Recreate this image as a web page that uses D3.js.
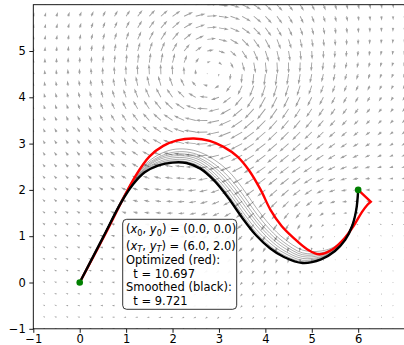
<!DOCTYPE html>
<html>
<head>
<meta charset="utf-8">
<script src="https://cdn.jsdelivr.net/npm/d3@7"></script>
<style>
  body { margin: 0; background: #fff; }
  svg { display: block; font-family: "DejaVu Sans", sans-serif; }
</style>
</head>
<body>
<div class="container"></div>
<script>
const width = 404;
const height = 345;

const xTicks = [-1, 0, 1, 2, 3, 4, 5, 6];
const yTicks = [-1, 0, 1, 2, 3, 4, 5];

// flow field: two Lamb-Oseen vortices (negative strength = clockwise)
const vortexX = [2.9, 5.2];
const vortexY = [4.45, 1.5];
const vortexStrength = [-1, 0.33];
const vortexCore = [1.1, 1.0];
const gridStep = 0.25;

// path iterations (x shared), smoothed (black), optimized (red)
const iterX = [0, 0.5, 0.9, 1.15, 1.4, 1.7, 2.0, 2.3, 2.6, 2.9, 3.2, 3.5, 3.8, 4.1, 4.4, 4.8, 5.2, 5.5, 5.72, 5.87, 5.96, 6.0];
const smoothedY = [0, 0.97, 1.74, 2.12, 2.38, 2.53, 2.59, 2.58, 2.46, 2.2, 1.83, 1.4, 1.02, 0.74, 0.55, 0.42, 0.5, 0.68, 0.92, 1.22, 1.58, 2.0];
const iterationY = [
  [0, 0.97, 1.75, 2.13, 2.4, 2.55, 2.62, 2.61, 2.5, 2.25, 1.89, 1.47, 1.08, 0.79, 0.59, 0.45, 0.52, 0.69, 0.93, 1.22, 1.58, 2.0],
  [0, 0.97, 1.75, 2.14, 2.42, 2.58, 2.65, 2.65, 2.54, 2.3, 1.96, 1.54, 1.15, 0.85, 0.64, 0.48, 0.54, 0.7, 0.93, 1.23, 1.58, 2.0],
  [0, 0.98, 1.76, 2.16, 2.44, 2.61, 2.69, 2.69, 2.59, 2.36, 2.04, 1.63, 1.24, 0.92, 0.69, 0.52, 0.56, 0.72, 0.94, 1.23, 1.58, 2.0],
  [0, 0.98, 1.77, 2.17, 2.46, 2.65, 2.73, 2.73, 2.64, 2.43, 2.12, 1.73, 1.32, 0.99, 0.75, 0.56, 0.59, 0.73, 0.95, 1.24, 1.59, 2.0],
  [0, 0.98, 1.77, 2.18, 2.48, 2.68, 2.77, 2.77, 2.68, 2.49, 2.2, 1.82, 1.4, 1.06, 0.81, 0.6, 0.62, 0.74, 0.96, 1.24, 1.59, 2.0],
  [0, 0.99, 1.78, 2.2, 2.51, 2.71, 2.81, 2.82, 2.74, 2.56, 2.29, 1.92, 1.5, 1.14, 0.87, 0.64, 0.64, 0.76, 0.97, 1.24, 1.59, 2.0],
  [0, 0.99, 1.79, 2.22, 2.54, 2.76, 2.87, 2.88, 2.81, 2.65, 2.41, 2.05, 1.62, 1.24, 0.95, 0.7, 0.68, 0.78, 0.98, 1.25, 1.59, 2.0]
];
const optimizedX = [0, 0.3, 0.6, 0.9, 1.2, 1.5, 1.8, 2.1, 2.46, 2.8, 3.1, 3.4, 3.65, 3.9, 4.11, 4.35, 4.6, 4.9, 5.16, 5.45, 5.7, 5.9, 6.08, 6.2, 6.27];
const optimizedY = [0, 0.57, 1.14, 1.74, 2.3, 2.72, 2.95, 3.07, 3.11, 3.06, 2.93, 2.72, 2.42, 2.0, 1.57, 1.22, 0.97, 0.72, 0.61, 0.72, 0.95, 1.22, 1.52, 1.68, 1.745];
const markerX = [0, 6];
const markerY = [0, 2];

const infoLines = ['Optimized (red):', '  t = 10.697', 'Smoothed (black):', '  t = 9.721'];

const x = d3.scaleLinear().domain([-1, 7]).range([33.3, 404.6]);
const y = d3.scaleLinear().domain([-1, 6]).range([328.8, 4.7]);

const svg = d3.select('.container')
  .append('svg')
  .attr('width', width)
  .attr('height', height);

svg.append('clipPath').attr('id', 'plot')
  .append('rect')
  .attr('x', x(-1)).attr('y', y(6))
  .attr('width', x(7) - x(-1)).attr('height', y(-1) - y(6));

function flow(px, py) {
  let u = 0;
  let v = 0;
  vortexX.forEach((cx, i) => {
    const dx = px - cx;
    const dy = py - vortexY[i];
    const r2 = dx * dx + dy * dy + 1e-9;
    const f = vortexStrength[i] * (1 - Math.exp(-r2 / (vortexCore[i] ** 2))) / r2;
    u += -dy * f;
    v += dx * f;
  });
  return [u, v];
}

// quiver, matplotlib-like arrow shape
const shaftW = 0.9;
const headW = 3 * shaftW;
const headL = 5 * shaftW;
const headAx = 4.5 * shaftW;
const pxPerSpeed = 19.5;

function arrowPoints(L) {
  let s = 1;
  let len = L;
  if (L < headL) { s = L / headL; len = headL; }
  const pts = [
    [0, -shaftW / 2], [len - headAx, -shaftW / 2], [len - headL, -headW / 2],
    [len, 0], [len - headL, headW / 2], [len - headAx, shaftW / 2], [0, shaftW / 2]
  ];
  return pts.map(p => [p[0] * s, p[1] * s]);
}

const grid = [];
d3.range(-1, 7 + 1e-6, gridStep).forEach(gx => {
  d3.range(-1, 6 + 1e-6, gridStep).forEach(gy => {
    const [u, v] = flow(gx, gy);
    grid.push({ gx, gy, u, v });
  });
});

const quiver = svg.append('g').attr('clip-path', 'url(#plot)');
quiver.selectAll('path')
  .data(grid)
  .enter()
  .append('path')
  .attr('transform', d => {
    const ang = Math.atan2(-d.v, d.u) * 180 / Math.PI;
    return `translate(${x(d.gx)},${y(d.gy)}) rotate(${ang})`;
  })
  .attr('d', d => {
    const L = Math.hypot(d.u, d.v) * pxPerSpeed;
    if (L < shaftW) {
      const r = shaftW / 2;
      return `M${-r},0a${r},${r} 0 1,0 ${2 * r},0a${r},${r} 0 1,0 ${-2 * r},0`;
    }
    return 'M' + arrowPoints(L).join('L') + 'Z';
  })
  .attr('fill', '#7f7f7f')
  .attr('fill-opacity', 0.75);

const curves = svg.append('g').attr('clip-path', 'url(#plot)');
const line = d3.line()
  .x(d => x(d[0]))
  .y(d => y(d[1]))
  .curve(d3.curveCatmullRom.alpha(0.5));

curves.selectAll('.iter')
  .data(iterationY)
  .enter()
  .append('path')
  .attr('class', 'iter')
  .attr('d', ys => line(ys.map((v, i) => [iterX[i], v])))
  .attr('fill', 'none')
  .attr('stroke', '#000')
  .attr('stroke-opacity', 0.4)
  .attr('stroke-width', 0.8);

const redPts = optimizedX.map((v, i) => [v, optimizedY[i]]);
curves.append('path')
  .attr('d', line(redPts) + `L${x(markerX[1])},${y(markerY[1])}`)
  .attr('fill', 'none')
  .attr('stroke', '#ff0000')
  .attr('stroke-width', 2.4)
  .attr('stroke-linejoin', 'miter');

curves.append('path')
  .attr('d', line(smoothedY.map((v, i) => [iterX[i], v])))
  .attr('fill', 'none')
  .attr('stroke', '#000')
  .attr('stroke-width', 2.4);

svg.selectAll('.marker')
  .data(markerX)
  .enter()
  .append('circle')
  .attr('cx', d => x(d))
  .attr('cy', (d, i) => y(markerY[i]))
  .attr('r', 3.3)
  .attr('fill', '#008000');

// axes
const fmt = d => (d < 0 ? '\u2212' + Math.abs(d) : String(d));
const xAxis = svg.append('g')
  .attr('transform', `translate(0,${y(-1)})`)
  .call(d3.axisBottom(x).tickValues(xTicks).tickSize(4).tickPadding(2.5).tickSizeOuter(0).tickFormat(fmt));
const yAxis = svg.append('g')
  .attr('transform', `translate(${x(-1)},0)`)
  .call(d3.axisLeft(y).tickValues(yTicks).tickSize(4).tickPadding(3.5).tickSizeOuter(0).tickFormat(fmt));

[xAxis, yAxis].forEach(g => {
  g.attr('font-family', '"DejaVu Sans", sans-serif').attr('font-size', 11.5);
  g.select('.domain').remove();
  g.selectAll('line').attr('stroke', '#000').attr('stroke-width', 0.9);
  g.selectAll('text').attr('fill', '#000');
});

svg.append('rect')
  .attr('x', x(-1)).attr('y', y(6))
  .attr('width', x(7) - x(-1)).attr('height', y(-1) - y(6))
  .attr('fill', 'none')
  .attr('stroke', '#000')
  .attr('stroke-width', 0.9);

// info box
const box = svg.append('g').attr('font-size', 11.5).attr('fill', '#000');
box.append('rect')
  .attr('x', 122.7).attr('y', 219.3)
  .attr('width', 114).attr('height', 90)
  .attr('rx', 4)
  .attr('fill', '#fff')
  .attr('fill-opacity', 0.92)
  .attr('stroke', '#000')
  .attr('stroke-opacity', 0.8)
  .attr('stroke-width', 1);

function mathLine(baseY, sub, valueText) {
  const t = box.append('text').attr('x', 126).attr('y', baseY);
  t.append('tspan').text('(');
  t.append('tspan').attr('font-style', 'italic').text('x');
  t.append('tspan').attr('font-size', 8.2).attr('dy', 2.6)
    .attr('font-style', sub === 'T' ? 'italic' : 'normal').text(sub);
  t.append('tspan').attr('dy', -2.6).text(', ');
  t.append('tspan').attr('font-style', 'italic').text('y');
  t.append('tspan').attr('font-size', 8.2).attr('dy', 2.6)
    .attr('font-style', sub === 'T' ? 'italic' : 'normal').text(sub);
  t.append('tspan').attr('dy', -2.6).text(') = ' + valueText);
}
mathLine(233, '0', '(0.0, 0.0)');
mathLine(249.5, 'T', '(6.0, 2.0)');

box.selectAll('.info')
  .data(infoLines)
  .enter()
  .append('text')
  .attr('class', 'info')
  .attr('x', 126)
  .attr('y', (d, i) => 264 + i * 13.5)
  .attr('xml:space', 'preserve')
  .style('white-space', 'pre')
  .text(d => d);
</script>
</body>
</html>
